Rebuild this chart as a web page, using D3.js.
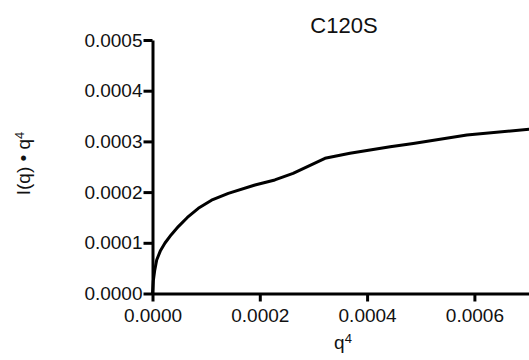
<!DOCTYPE html>
<html>
<head>
<meta charset="utf-8">
<script src="https://cdn.jsdelivr.net/npm/d3@7"></script>
<style>
  body { margin: 0; background: #fff; }
  text { font-family: Arial, "Liberation Sans", sans-serif; fill: #111; }
</style>
</head>
<body>
<div id="chart"></div>
<script>
// C120S - Porod style plot, I(q)*q^4 vs q^4
var w = 529;
var h = 360;

var q4 = [0, 0.0000015, 0.000004, 0.0000078, 0.000015, 0.0000233, 0.000035, 0.0000481,
  0.000065, 0.0000854, 0.00011, 0.0001413, 0.000191, 0.000228, 0.000262, 0.0003215,
  0.000368, 0.000443, 0.000486, 0.000586, 0.000702, 0.00075];
var iq4 = [0, 0.000025, 0.000045, 0.000066, 0.000085, 0.0000996, 0.000116, 0.000132,
  0.00015, 0.000168, 0.000184, 0.0001976, 0.000214, 0.000224, 0.000237, 0.0002667,
  0.0002765, 0.0002895, 0.000296, 0.0003126, 0.000324, 0.000328];

var xTicks = [0, 0.0002, 0.0004, 0.0006];
var yTicks = [0, 0.0001, 0.0002, 0.0003, 0.0004, 0.0005];

var svg = d3.select("#chart").append("svg")
  .attr("width", w)
  .attr("height", h);

var x = d3.scaleLinear().domain([0, 0.0008]).range([152.5, 581.7]);
var y = d3.scaleLinear().domain([0, 0.0005]).range([293.5, 40]);

var fmt = d3.format(".4f");

var xAxis = svg.append("g")
  .attr("transform", "translate(0," + y(0) + ")")
  .call(d3.axisBottom(x).tickValues(xTicks).tickFormat(fmt)
    .tickSize(8).tickSizeOuter(0).tickPadding(7.5));

var yAxis = svg.append("g")
  .attr("transform", "translate(" + x(0) + ",0)")
  .call(d3.axisLeft(y).tickValues(yTicks).tickFormat(fmt)
    .tickSize(9).tickSizeOuter(0).tickPadding(1));

svg.selectAll(".domain, .tick line")
  .attr("stroke", "#000")
  .attr("stroke-width", 3);
svg.selectAll(".tick text")
  .style("font-size", "19px")
  .attr("fill", "#111");

var pts = q4.map(function(d, i) { return [d, iq4[i]]; });

var line = d3.line()
  .x(function(d) { return x(d[0]); })
  .y(function(d) { return y(d[1]); });

svg.append("path")
  .datum(pts)
  .attr("d", line)
  .attr("fill", "none")
  .attr("stroke", "#000")
  .attr("stroke-width", 3)
  .attr("stroke-linejoin", "round");

// title
svg.append("text")
  .attr("x", 344)
  .attr("y", 33)
  .attr("text-anchor", "middle")
  .style("font-size", "22px")
  .text("C120S");

// x axis title
var xt = svg.append("text")
  .attr("x", 343)
  .attr("y", 349)
  .attr("text-anchor", "middle")
  .style("font-size", "19px");
xt.append("tspan").text("q");
xt.append("tspan").attr("dy", "-0.45em").style("font-size", "13px").text("4");

// y axis title
var yt = svg.append("text")
  .attr("transform", "translate(30,163.5) rotate(-90)")
  .attr("text-anchor", "middle")
  .style("font-size", "19px");
yt.append("tspan").text("I(q) \u2022 q");
yt.append("tspan").attr("dy", "-0.45em").style("font-size", "13px").text("4");
</script>
</body>
</html>
